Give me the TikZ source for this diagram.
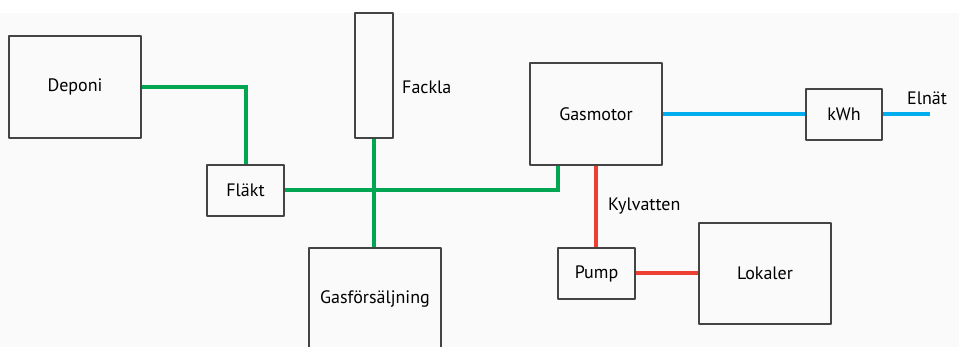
\documentclass[tikz,border=0pt]{standalone}
\usepackage{fontspec}
\setmainfont{PT Sans}
\usetikzlibrary{positioning}
\definecolor{gaspipe}{RGB}{0,166,81}
\definecolor{elpipe}{RGB}{0,174,239}
\definecolor{waterpipe}{RGB}{237,64,50}
\definecolor{boxline}{RGB}{68,68,68}
\definecolor{bgpaper}{RGB}{250,250,250}

\begin{document}
\begin{tikzpicture}[x=1pt,y=-1pt,line cap=round,line join=round,
    bigbox/.style={draw=boxline,line width=1.3pt,minimum width=132pt,minimum height=102pt,inner sep=0pt,font=\fontsize{18}{18}\selectfont},
    smallbox/.style={draw=boxline,line width=1.3pt,minimum width=77pt,minimum height=51pt,inner sep=0pt,font=\fontsize{18}{18}\selectfont},
    pipe/.style={line width=4pt,line cap=butt,line join=miter},
    plainlabel/.style={anchor=base west,inner sep=0pt,font=\fontsize{18}{18}\selectfont}]
    \path[use as bounding box] (0,0) rectangle (959,347);
    \clip (0,0) rectangle (959,347);
    \fill[bgpaper] (0,13) rectangle (959,347);

    \node[bigbox] (deponi) at (75,87) {Deponi};
    \node[smallbox] (flakt) at (245.5,190.5) {Fläkt};
    \node[draw=boxline,line width=1.3pt,minimum width=38pt,minimum height=125pt,inner sep=0pt] (fackla) at (374,75.5) {};
    \node[bigbox] (gasforsaljning) at (375,299) {Gasförsäljning};
    \node[bigbox] (gasmotor) at (596,114) {Gasmotor};
    \node[smallbox,minimum width=76pt] (kwh) at (844,114.5) {kWh};
    \node[smallbox] (pump) at (596.5,273.5) {Pump};
    \node[bigbox,minimum height=101pt] (lokaler) at (765,273.5) {Lokaler};
    \coordinate (elnat) at (930,114.5);

    \node[plainlabel] (facklatext) at (402,94) {Fackla};
    \node[plainlabel] (kylvatten) at (608,210.5) {Kylvatten};
    \node[plainlabel] (elnattext) at (907,105) {Elnät};

    \draw[pipe,gaspipe] (deponi.east) -| (flakt.north);
    \draw[pipe,gaspipe] (flakt.east) -| ([xshift=29pt]gasmotor.south west);
    \draw[pipe,gaspipe] (fackla.south) -- (fackla.south |- gasforsaljning.north);
    \draw[pipe,elpipe] (gasmotor.east) -- (gasmotor.east -| kwh.west);
    \draw[pipe,elpipe] (kwh.east) -- (elnat);
    \draw[pipe,waterpipe] (gasmotor.south) -- (gasmotor.south |- pump.north);
    \draw[pipe,waterpipe] (pump.east) -- (lokaler.west);
\end{tikzpicture}
\end{document}
